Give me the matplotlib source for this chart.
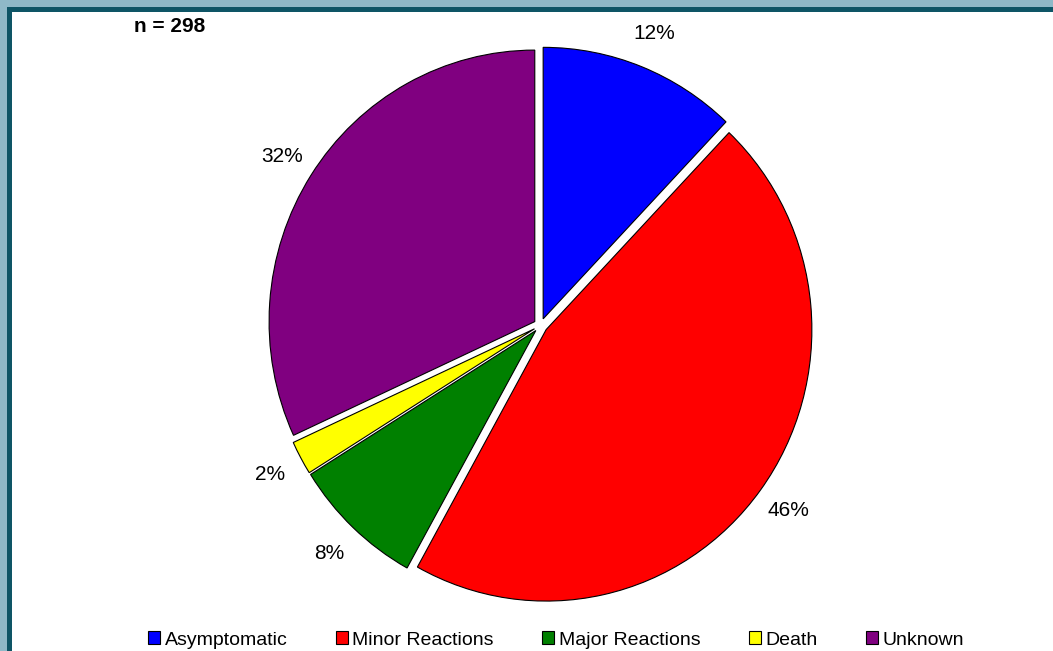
import matplotlib
matplotlib.use("Agg")
import matplotlib.pyplot as plt
from matplotlib.patches import Rectangle, Patch

plt.rcParams['font.family'] = ['Liberation Sans', 'DejaVu Sans']

categories = ["Asymptomatic", "Minor Reactions", "Major Reactions", "Death", "Unknown"]
counts = [36, 137, 24, 6, 95]
colors = ["#0000FF", "#FF0000", "#008000", "#FFFF00", "#800080"]
n_label = "n = 298"

W, H = 1053, 651
fig = plt.figure(figsize=(W / 100, H / 100), dpi=100)
fig.patch.set_facecolor("#8FB9C8")

# background axes in pixel coords (y down)
bg = fig.add_axes([0, 0, 1, 1], zorder=0)
bg.set_xlim(0, W)
bg.set_ylim(H, 0)
bg.axis('off')
bg.add_patch(Rectangle((7, 7), W + 20, H + 20, facecolor="#0E5566", edgecolor="none"))
bg.add_patch(Rectangle((12, 12), W + 20, H + 20, facecolor="white", edgecolor="none"))
bg.text(170, 27, n_label, fontsize=15, fontweight='bold', ha='center', va='center')

# pie axes (slightly taller than wide, as in the reference)
cx, cy, rx, ry = 540.6, 325.4, 265.7, 271.5
pad = 1.3
pax = fig.add_axes([(cx - pad * rx) / W, (H - cy - pad * ry) / H,
                    2 * pad * rx / W, 2 * pad * ry / H], zorder=1)
pax.set_facecolor("none")
wedges, texts, autotexts = pax.pie(
    counts, colors=colors, startangle=90, counterclock=False,
    explode=[0.026] * len(counts), radius=1,
    autopct='%1.0f%%', pctdistance=1.13,
    wedgeprops=dict(edgecolor="black", linewidth=0.8),
    textprops=dict(fontsize=15, color="black"),
)
pax.set_xlim(-pad, pad)
pax.set_ylim(-pad, pad)
pax.set_aspect('auto')
pax.axis('off')

handles = [Patch(facecolor=c, edgecolor="black", linewidth=0.8) for c in colors]
fig.legend(handles, categories, loc='center', bbox_to_anchor=(556 / W, 1 - 640 / H),
           ncol=5, frameon=False, fontsize=14, handlelength=0.62, handleheight=0.62,
           handletextpad=0.25, columnspacing=2.47, borderpad=0, borderaxespad=0)

fig.savefig("out.png", dpi=100)
